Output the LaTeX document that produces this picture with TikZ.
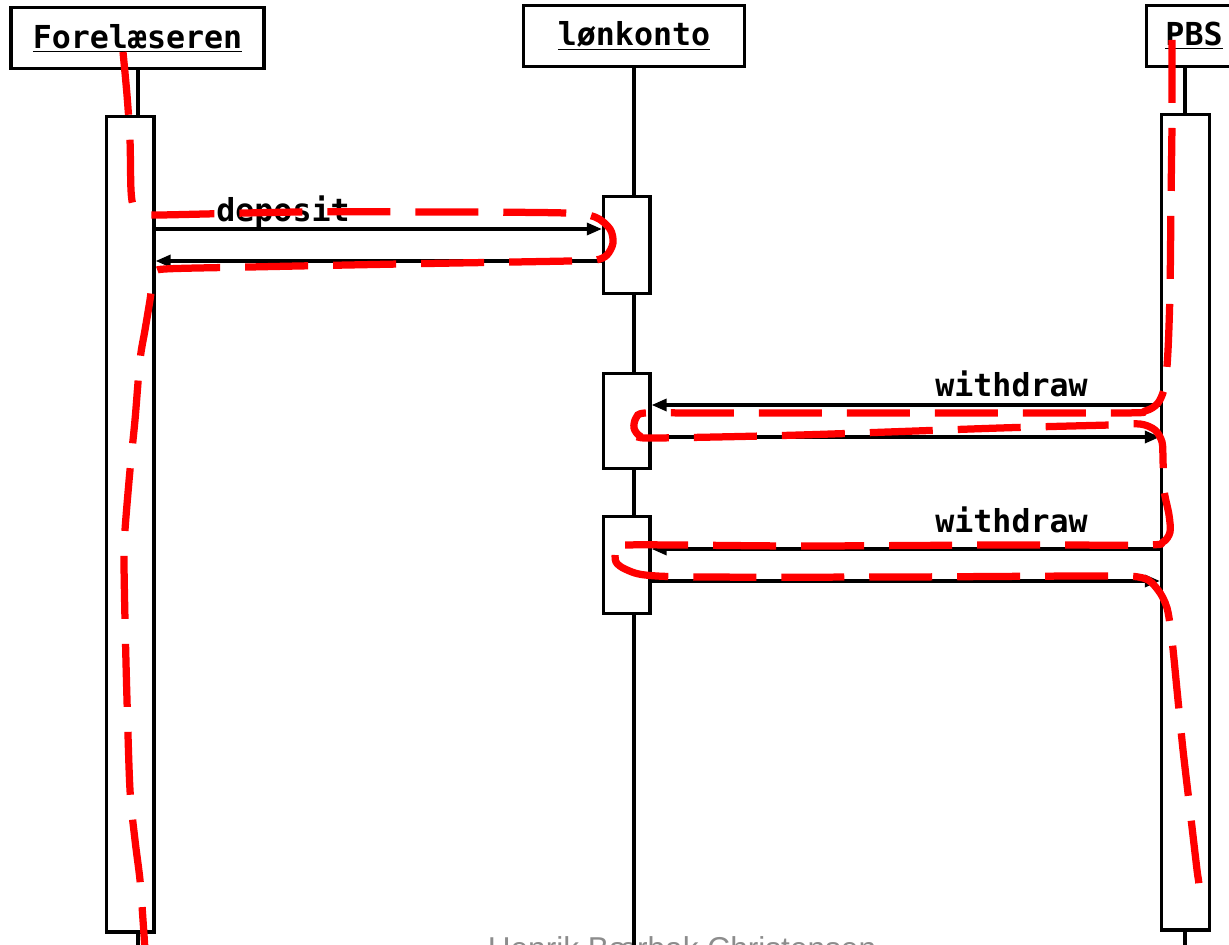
\documentclass[tikz,border=0pt]{standalone}
\usepackage{fontspec}
\setmonofont{DejaVu Sans Mono}
\newfontfamily\footfont{Liberation Sans}
\usetikzlibrary{arrows.meta}
\definecolor{redline}{RGB}{255,0,0}
\definecolor{footgray}{RGB}{140,140,140}
\begin{document}
\begin{tikzpicture}[x=0.02cm, y=-0.02cm,
  box/.style={draw, line width=0.065cm, fill=white, inner sep=0pt},
  hdr/.style={box, font=\ttfamily\bfseries\fontsize{18}{20}\selectfont, minimum height=1.22cm},
  life/.style={line width=0.065cm},
  msg/.style={line width=0.065cm, -{Triangle[length=0.3cm,width=0.24cm]}},
  lbl/.style={font=\ttfamily\bfseries\fontsize{18}{20}\selectfont, inner sep=0pt, anchor=base west},
  trace/.style={draw=redline, line width=0.145cm, dash pattern=on 1.26cm off 0.5cm}
]
\useasboundingbox (0,0) rectangle (1229,945);
\clip (0,0) rectangle (1229,945);

% footer (partly cut off, as in the reference)
\node[font=\footfont\fontsize{18}{20}\selectfont, text=footgray, anchor=base, inner sep=0pt] (foot) at (682,959) {Henrik Bærbak Christensen};

% headers
\node[hdr, minimum width=5.06cm] (hF) at (137.5,38) {\underline{Forelæseren}};
\node[hdr, minimum width=4.42cm] (hL) at (634,36) {\underline{lønkonto}};
\node[hdr, minimum width=1.9cm] (hP) at (1194,36) {\underline{PBS}};

% lifeline bottoms
\coordinate (fx) at (138,950);
\coordinate (lx) at (634,950);
\coordinate (px) at (1185,950);

\draw[life] (hF.south -| fx) -- (fx);
\draw[life] (hL.south -| lx) -- (lx);
\draw[life] (hP.south -| px) -- (px);

% activation boxes
\node[box, minimum width=0.95cm, minimum height=16.31cm] (aF) at (130.25,524.25) {};
\node[box, minimum width=0.93cm, minimum height=1.94cm] (aL1) at (626.75,245) {};
\node[box, minimum width=0.93cm, minimum height=1.9cm] (aL2) at (626.75,421) {};
\node[box, minimum width=0.93cm, minimum height=1.94cm] (aL3) at (626.75,565) {};
\node[box, minimum width=0.96cm, minimum height=16.31cm] (aP) at (1185.5,522.25) {};

% message rows
\coordinate (r1) at (0,229);
\coordinate (r2) at (0,261);
\coordinate (r3) at (0,405);
\coordinate (r4) at (0,437);
\coordinate (r5) at (0,549);
\coordinate (r6) at (0,581);

\draw[msg] (aF.east |- r1) -- (aL1.west |- r1);
\draw[msg] (aL1.west |- r2) -- (aF.east |- r2);
\draw[msg] (aP.west |- r3) -- (aL2.east |- r3);
\draw[msg] (aL2.east |- r4) -- (aP.west |- r4);
\draw[msg] (aP.west |- r5) -- (aL3.east |- r5);
\draw[msg] (aL3.east |- r6) -- (aP.west |- r6);

\node[lbl] (ldep) at (216,222) {deposit};
\node[lbl] (lw1) at (935,397) {withdraw};
\node[lbl] (lw2) at (935,532) {withdraw};

% red dashed traces
\draw[trace] plot[smooth, tension=0.5] coordinates {
  (123,52) (127,95) (130,140) (131,190) (134,207) (145,214) (160,215)
  (300,212) (450,212) (565,213) (595,217) (610,229) (613,243) (607,255)
  (596,260) (570,261) (400,264) (250,267) (165,269) (156,273) (152,286)
  (150,300) (145,330) (140,360) (135,420) (130,470) (125,530) (124,560)
  (125,620) (127,700) (130,790) (135,840) (140,880) (143,920) (145,950)};

\draw[trace] plot[smooth, tension=0.5] coordinates {
  (1172,40) (1172,120) (1171,200) (1170,290) (1168,350) (1165,385)
  (1158,403) (1145,411) (1120,413) (900,413) (700,413) (645,413)
  (636,418) (634,428) (640,436) (655,438) (800,435) (1000,428)
  (1110,425) (1140,424) (1155,430) (1162,442) (1163,460) (1164,490)
  (1169,515) (1170,532) (1163,542) (1145,545) (1000,545) (800,546)
  (625,545) (616,551) (616,562) (625,569) (645,575) (700,577) (900,577)
  (1100,576) (1143,578) (1158,590) (1167,608) (1172,640) (1177,690)
  (1183,750) (1190,810) (1197,870) (1199,885) (1197,898)};
\end{tikzpicture}
\end{document}
